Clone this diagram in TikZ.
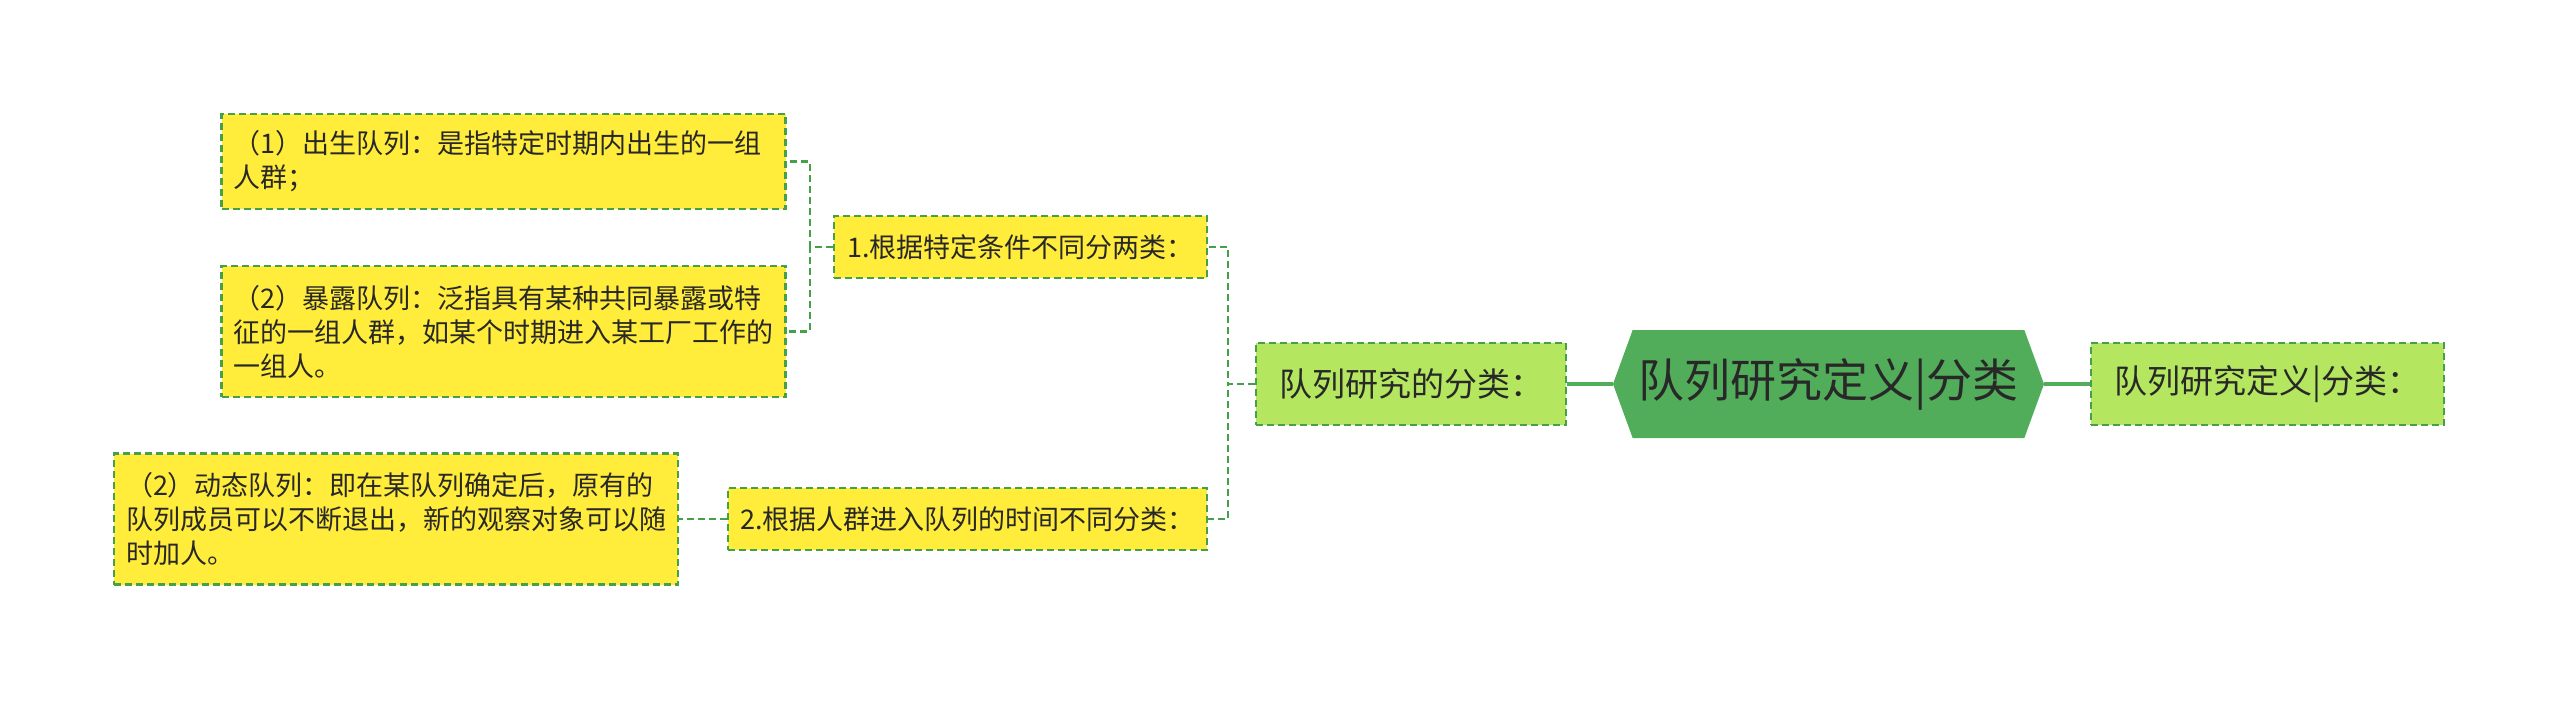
\documentclass[tikz,border=0pt]{standalone}
\usepackage{fontspec}
\setmainfont{Noto Sans CJK SC}
\usetikzlibrary{shapes.symbols}
\definecolor{hexgreen}{RGB}{82,173,90}
\definecolor{lightgreen}{RGB}{180,230,96}
\definecolor{leafyellow}{RGB}{255,236,59}
\definecolor{edgegreen}{RGB}{70,160,72}
\definecolor{textgray}{RGB}{40,40,40}
\tikzset{
  topic/.style={draw=edgegreen,line width=1.1pt,dash pattern=on 3.5pt off 2pt,fill=lightgreen,text=textgray,
    minimum height=41pt,font=\fontsize{16.5}{20}\selectfont},
  branch/.style={draw=edgegreen,line width=1.1pt,dash pattern=on 3.5pt off 2pt,fill=leafyellow,text=textgray,
    minimum height=31pt,font=\fontsize{13.5}{17}\selectfont},
  leaf/.style={draw=edgegreen,line width=1.1pt,dash pattern=on 3.5pt off 2pt,fill=leafyellow,text=textgray,
    align=left,text width=270pt,inner xsep=6pt,font=\fontsize{13.5}{17}\selectfont},
  link/.style={draw=edgegreen,line width=1.1pt,dash pattern=on 3.5pt off 2pt},
  mainlink/.style={draw=hexgreen,line width=1.8pt}
}
\begin{document}
\begin{tikzpicture}[x=0.5pt,y=-0.5pt]
  \useasboundingbox (0,0) rectangle (2560,701);
  \node[signal,signal to=west and east,signal pointer angle=140,fill=hexgreen,text=textgray,
    minimum width=215.5pt,minimum height=54pt,inner xsep=2pt,font=\fontsize{23}{28}\selectfont] (hex) at (1828.5,384) {队列研究定义|分类};
  \node[topic,minimum width=176.5pt,right of=hex,node distance=219.5pt] (defn) {队列研究定义|分类：};
  \node[topic,minimum width=155pt,left of=hex,node distance=208.75pt] (kinds) {队列研究的分类：};
  \node[branch,minimum width=186.5pt] (cond) at (1020.5,247) {1.根据特定条件不同分两类：};
  \node[branch,minimum width=239.5pt] (time) at (967.5,519) {2.根据人群进入队列的时间不同分类：};
  \node[leaf,minimum height=47.5pt] (birth) at (503.5,161.5) {（1）出生队列：是指特定时期内出生的一组\\人群；};
  \node[leaf,minimum height=65.5pt] (expo) at (503.5,331.5) {（2）暴露队列：泛指具有某种共同暴露或特\\征的一组人群，如某个时期进入某工厂工作的\\一组人。};
  \node[leaf,minimum height=65.5pt,left of=time,node distance=285.75pt] (dyn) {（2）动态队列：即在某队列确定后，原有的\\队列成员可以不断退出，新的观察对象可以随\\时加人。};

  \draw[mainlink] (hex.east) -- (defn.west);
  \draw[mainlink] (hex.west) -- (kinds.east);
  \draw[link] (kinds.west) -- ++(-27,0) |- (cond.east);
  \draw[link] (kinds.west) -- ++(-27,0) |- (time.east);
  \draw[link] (cond.west) -- ++(-23,0) |- (birth.east);
  \draw[link] (cond.west) -- ++(-23,0) |- (expo.east);
  \draw[link] (time.west) -- (dyn.east);
\end{tikzpicture}
\end{document}
